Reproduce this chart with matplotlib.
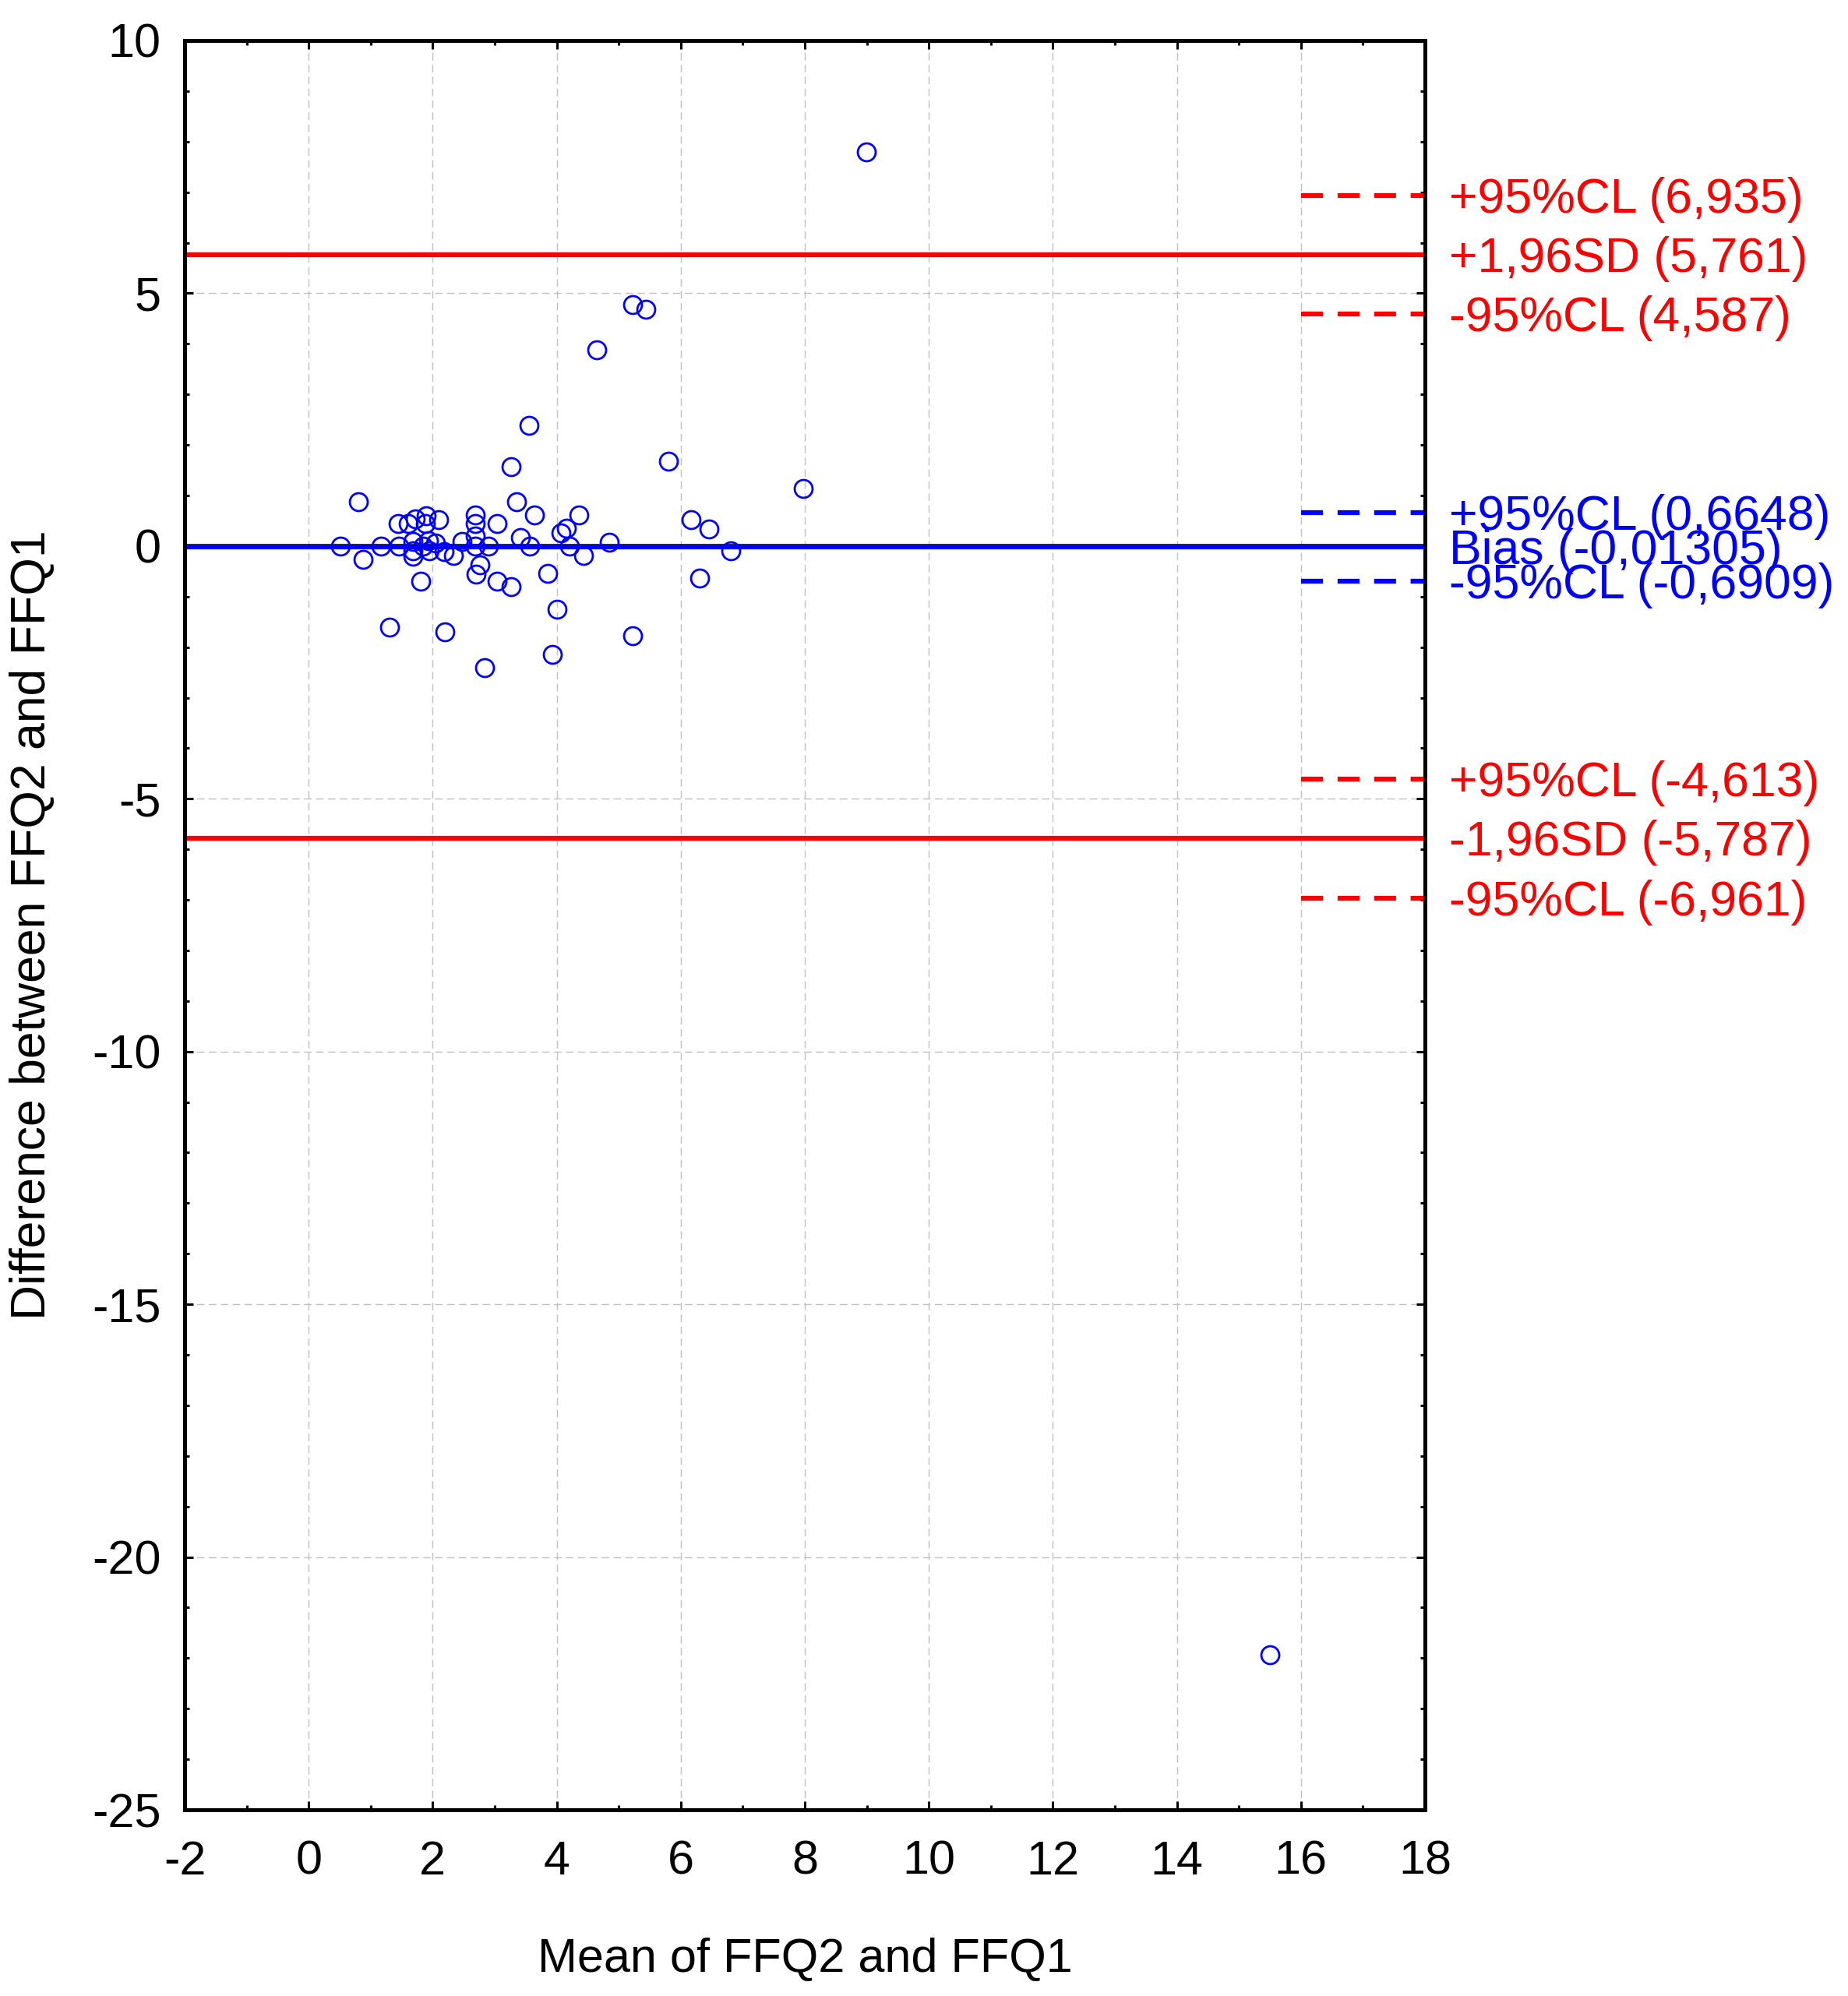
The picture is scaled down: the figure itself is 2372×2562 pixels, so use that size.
import matplotlib
matplotlib.use("Agg")
import matplotlib.pyplot as plt
from matplotlib.ticker import MultipleLocator, FixedLocator
import matplotlib.transforms as mtransforms

plt.rcParams['font.family'] = ['Liberation Sans', 'DejaVu Sans']
plt.rcParams['axes.unicode_minus'] = False

# ---- data ----
mean_vals = [0.51, 0.80, 0.88, 1.17, 1.31, 1.44, 1.46, 1.60, 1.68, 1.68,
             1.68, 1.72, 1.81, 1.84, 1.88, 1.90, 1.93, 1.94, 2.05, 2.10,
             2.18, 2.19, 2.33, 2.47, 2.68, 2.68, 2.68, 2.69, 2.70, 2.76,
             2.84, 2.90, 3.04, 3.04, 3.26, 3.27, 3.35, 3.41, 3.55, 3.57,
             3.64, 3.85, 3.93, 4.00, 4.07, 4.15, 4.21, 4.36, 4.43, 4.64,
             4.85, 5.22, 5.22, 5.44, 5.80, 6.16, 6.30, 6.46, 6.81, 7.97,
             8.99, 15.50]
diff_vals = [0.00, 0.87, -0.26, 0.00, -1.60, 0.44, 0.00, 0.44, 0.09, -0.09,
             -0.20, 0.53, -0.70, 0.00, 0.45, 0.60, 0.10, -0.09, 0.06, 0.52,
             -0.11, -1.69, -0.19, 0.09, 0.61, 0.44, 0.20, 0.00, -0.55, -0.37,
             -2.40, 0.00, 0.44, -0.70, -0.80, 1.57, 0.87, 0.17, 2.38, 0.00,
             0.61, -0.54, -2.14, -1.25, 0.26, 0.35, 0.00, 0.61, -0.19, 3.88,
             0.08, 4.77, -1.78, 4.69, 1.67, 0.52, -0.63, 0.34, -0.10, 1.14,
             7.80, -21.93]

bias = -0.01305
bias_ci = [0.6648, -0.6909]
bias_ci_labels = ["+95%CL (0,6648)", "-95%CL (-0,6909)"]
loa = [5.761, -5.787]
loa_labels = ["+1,96SD (5,761)", "-1,96SD (-5,787)"]
loa_ci = [6.935, 4.587, -4.613, -6.961]
loa_ci_labels = ["+95%CL (6,935)", "-95%CL (4,587)", "+95%CL (-4,613)", "-95%CL (-6,961)"]
bias_label = "Bias (-0,01305)"

x_ticks = [-2, 0, 2, 4, 6, 8, 10, 12, 14, 16, 18]
y_ticks = [-25, -20, -15, -10, -5, 0, 5, 10]
ci_x_range = [16, 18]

RED = '#ff0000'
BLUE = '#0000ff'

W, H = 2372, 2562
fig = plt.figure(figsize=(W / 100, H / 100), dpi=100)
ax = fig.add_axes([237 / W, 1 - 2323 / H, (1829 - 237) / W, (2323 - 52) / H])

ax.set_xlim(-2, 18)
ax.set_ylim(-25, 10)
ax.xaxis.set_major_locator(FixedLocator(x_ticks))
ax.yaxis.set_major_locator(FixedLocator(y_ticks))
ax.xaxis.set_minor_locator(MultipleLocator(1))
ax.yaxis.set_minor_locator(MultipleLocator(1))

ax.grid(True, which='major', color='#c0c0c0', linestyle=(0, (7, 4)), linewidth=1.0)
ax.set_axisbelow(True)

for sp in ax.spines.values():
    sp.set_linewidth(3.6)
    sp.set_zorder(5)

ax.tick_params(which='both', direction='in', top=True, right=True, width=2.2, colors='black')
ax.tick_params(which='major', length=8)
ax.tick_params(which='minor', length=4.5)
ax.tick_params(axis='x', which='major', labelsize=44, pad=28)
ax.tick_params(axis='y', which='major', labelsize=44, pad=22)

# reference zero line and bias
ax.axhline(0, color='black', linewidth=4.0, zorder=2)
ax.axhline(bias, color=BLUE, linewidth=4.5, zorder=3)
for v in loa:
    ax.axhline(v, color=RED, linewidth=4.5, zorder=3)

for v in bias_ci:
    ax.plot(ci_x_range, [v, v], color=BLUE, linewidth=4.5, linestyle=(0, (4.5, 3.0)),
            dash_capstyle='butt', zorder=3, clip_on=True)
for v in loa_ci:
    ax.plot(ci_x_range, [v, v], color=RED, linewidth=4.5, linestyle=(0, (4.5, 3.0)),
            dash_capstyle='butt', zorder=3, clip_on=True)

ax.plot(mean_vals, diff_vals, linestyle='none', marker='o', markersize=16.5,
        markerfacecolor='none', markeredgecolor=BLUE, markeredgewidth=2.0, zorder=4)

# right-hand labels
trans = mtransforms.blended_transform_factory(ax.transAxes, ax.transData)
def label(y, s, c):
    ax.annotate(s, xy=(1.0, y), xycoords=trans, xytext=(22, -4), textcoords='offset points',
                ha='left', va='center', fontsize=45, color=c, annotation_clip=False)

label(loa_ci[0], loa_ci_labels[0], RED)
label(loa[0], loa_labels[0], RED)
label(loa_ci[1], loa_ci_labels[1], RED)
label(bias_ci[0], bias_ci_labels[0], BLUE)
label(bias, bias_label, BLUE)
label(bias_ci[1], bias_ci_labels[1], BLUE)
label(loa_ci[2], loa_ci_labels[2], RED)
label(loa[1], loa_labels[1], RED)
label(loa_ci[3], loa_ci_labels[3], RED)

fig.text(1033 / W, 1 - 2531 / H, "Mean of FFQ2 and FFQ1", ha='center', va='baseline', fontsize=44)
fig.text(42 / W, 1 - 1187 / H, "Difference between FFQ2 and FFQ1", ha='center', va='center',
         rotation=90, fontsize=45)

fig.savefig("out.png", dpi=100)
